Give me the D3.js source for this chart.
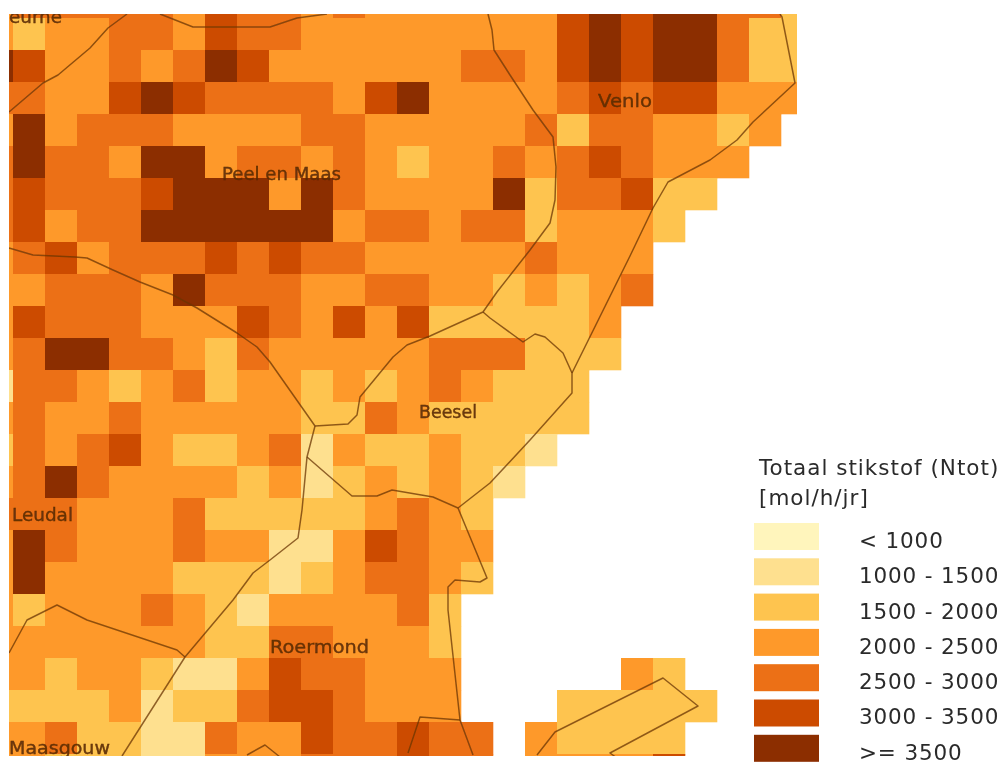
<!DOCTYPE html>
<html lang="nl">
    <head>
        <meta charset="utf-8">
        <title>Totaal stikstof</title>
        <script type="text/javascript" src="https://cdnjs.cloudflare.com/ajax/libs/d3/7.8.5/d3.min.js"></script>
        <style type="text/css">
html, body {
    margin: 0;
    background-color: #ffffff;
}
svg {
    display: block;
}
        </style>
    </head>
    <body>
        <script type="text/javascript">
var width=1004;
var height=762;

// klasse per gridcel, 0 = < 1000 ... 6 = >= 3500, "." = geen data
var gridRows=[
    "34444435443433333356566442",
    "32334435443333333356566422",
    "65334346533333344356566422",
    "44335654444356333345455333",
    "3634443333443333342443323.",
    "464436634434323343454333..",
    "45444566636433336244522...",
    "4534466666634434423332....",
    "345344454544333334333.....",
    "334443644433443323234.....",
    "35444333543535222223......",
    "34664432433333444222......",
    "1443234233232343222.......",
    "3433433333224322222.......",
    "243453223413223221........",
    "34643333231232321.........",
    "4443334222223432..........",
    "3643334331135433..........",
    "3633332221234432..........",
    "323334321333342...........",
    "333333322443332...........",
    "332332113544333.....32....",
    "222231224554333...22222...",
    "3342211433544544.32222....",
    "3322211333444544.33335...."
];

var classColors=["#fff5bc","#fee08f","#fec44f","#fe9929","#ec7014","#cc4c02","#8c2d04"];
var classLabels=["< 1000","1000 - 1500","1500 - 2000","2000 - 2500","2500 - 3000","3000 - 3500",">= 3500"];
var legendTitle=["Totaal stikstof (Ntot)","[mol/h/jr]"];

// gemeentegrenzen, in kaarteenheden
var borders=[
    [[0,98],[34,69],[49,61],[81,34],[99,14],[118,0]],
    [[151,0],[184,13],[261,13],[288,4],[318,0]],
    [[479,0],[483,16],[485,36],[501,61],[524,96],[544,123],[547,153],[546,186],[541,209],[521,236],[488,278],[474,298],[421,322],[398,331],[384,343],[351,383],[348,401],[339,410],[306,412]],
    [[306,412],[261,348],[248,333],[228,319],[188,294],[164,281],[131,268],[104,256],[78,244],[66,243],[24,241],[0,234]],
    [[306,412],[298,443],[293,496],[289,524],[261,546],[244,559],[224,586],[176,643],[113,742]],
    [[298,443],[343,482],[368,482],[383,476],[424,483],[449,494]],
    [[474,298],[481,304],[514,328],[526,320],[536,323],[554,339],[563,359],[563,379],[521,426],[481,469],[449,494]],
    [[563,359],[621,242],[644,194],[659,168],[701,146],[728,126],[744,108],[786,69],[773,3],[771,0]],
    [[449,494],[478,564],[471,568],[446,566],[439,573],[439,596],[451,706],[464,741]],
    [[451,706],[411,703],[399,739]],
    [[238,741],[256,731],[271,743]],
    [[0,639],[18,606],[48,591],[78,606],[168,636],[176,643]],
    [[528,741],[546,718],[654,664],[689,692],[601,739],[608,744]]
];

// x = begin van de naam, y = basislijn, size = breedte van de naam
var places=[
    {name:"eurne", x:0, y:9, size:53},
    {name:"Peel en Maas", x:213, y:166, size:119},
    {name:"Venlo", x:589, y:93, size:54},
    {name:"Beesel", x:410, y:404, size:58},
    {name:"Leudal", x:3, y:507, size:61},
    {name:"Roermond", x:261, y:639, size:99},
    {name:"Maasgouw", x:0, y:740, size:101}
];

var borderColor="#6b3505";
var labelColor="#5c2c05";

var svg = d3.select("body").append("svg")
    .attr("width",width).attr("height",height);

var defs=svg.append("defs");
defs.append("clipPath").attr("id","mapclip").append("rect")
    .attr("x",9).attr("y",14).attr("width",788).attr("height",742);
defs.append("filter").attr("id","soft")
    .attr("x","-2%").attr("y","-2%").attr("width","104%").attr("height","104%")
    .append("feGaussianBlur").attr("stdDeviation",0.6);
defs.append("filter").attr("id","softer")
    .attr("x","-2%").attr("y","-2%").attr("width","104%").attr("height","104%")
    .append("feGaussianBlur").attr("stdDeviation",0.35);

// cellen liggen op een vast raster van 32 px, eerste en laatste rij/kolom vallen deels buiten de kaart
var colScale=d3.scaleBand().domain(d3.range(26)).range([-19,813]);
var rowScale=d3.scaleBand().domain(d3.range(25)).range([-14,786]);
var mapX=d3.scaleLinear().domain([0,788]).range([9,797]);
var mapY=d3.scaleLinear().domain([0,742]).range([14,756]);
var classColor=d3.scaleOrdinal().domain(d3.range(7)).range(classColors);

var cells=[];
gridRows.forEach(function(row,r){
    row.split("").forEach(function(c,i){
        if(c!==".") cells.push({row:r,col:i,cls:+c});
    });
});

var map=svg.append("g").attr("clip-path","url(#mapclip)");
var inner=map.append("g").attr("filter","url(#soft)");

inner.selectAll("rect").data(cells).enter().append("rect")
    .attr("x",function(d){return colScale(d.col);})
    .attr("y",function(d){return rowScale(d.row);})
    .attr("width",colScale.bandwidth()+0.3)
    .attr("height",rowScale.bandwidth()+0.3)
    .attr("fill",function(d){return classColor(d.cls);});

var line=d3.line().x(function(d){return mapX(d[0]);}).y(function(d){return mapY(d[1]);});

inner.selectAll("path").data(borders).enter().append("path")
    .attr("d",line)
    .attr("fill","none")
    .attr("stroke",borderColor)
    .attr("stroke-opacity",0.75)
    .attr("stroke-width",1.5)
    .attr("stroke-linejoin","round");

inner.selectAll("text").data(places).enter().append("text")
    .attr("x",function(d){return mapX(d.x);})
    .attr("y",function(d){return mapY(d.y);})
    .attr("textLength",function(d){return d.size;})
    .attr("lengthAdjust","spacingAndGlyphs")
    .attr("font-family","'DejaVu Sans',sans-serif")
    .attr("font-size",18)
    .attr("fill",labelColor)
    .attr("stroke",labelColor)
    .attr("stroke-width",0.35)
    .attr("fill-opacity",0.9)
    .text(function(d){return d.name;});

// legenda
var legendY=d3.scaleBand().domain(d3.range(7)).range([523,761.8]).paddingInner(0.235).paddingOuter(0);
var legend=svg.append("g").attr("filter","url(#softer)").attr("font-family","'DejaVu Sans',sans-serif").attr("fill","#2b2b2b");

legend.selectAll("text.title").data(legendTitle).enter().append("text")
    .attr("class","title")
    .attr("x",759)
    .attr("y",function(d,i){return 475+i*30;})
    .attr("font-size",21.5)
    .attr("letter-spacing",1)
    .text(function(d){return d;});

legend.selectAll("rect").data(classLabels).enter().append("rect")
    .attr("x",754).attr("width",65)
    .attr("y",function(d,i){return legendY(i);})
    .attr("height",legendY.bandwidth())
    .attr("fill",function(d,i){return classColors[i];});

legend.selectAll("text.label").data(classLabels).enter().append("text")
    .attr("class","label")
    .attr("x",859)
    .attr("y",function(d,i){return legendY(i)+25;})
    .attr("font-size",21.5)
    .attr("letter-spacing",0.85)
    .text(function(d){return d;});
        </script>
    </body>
</html>
